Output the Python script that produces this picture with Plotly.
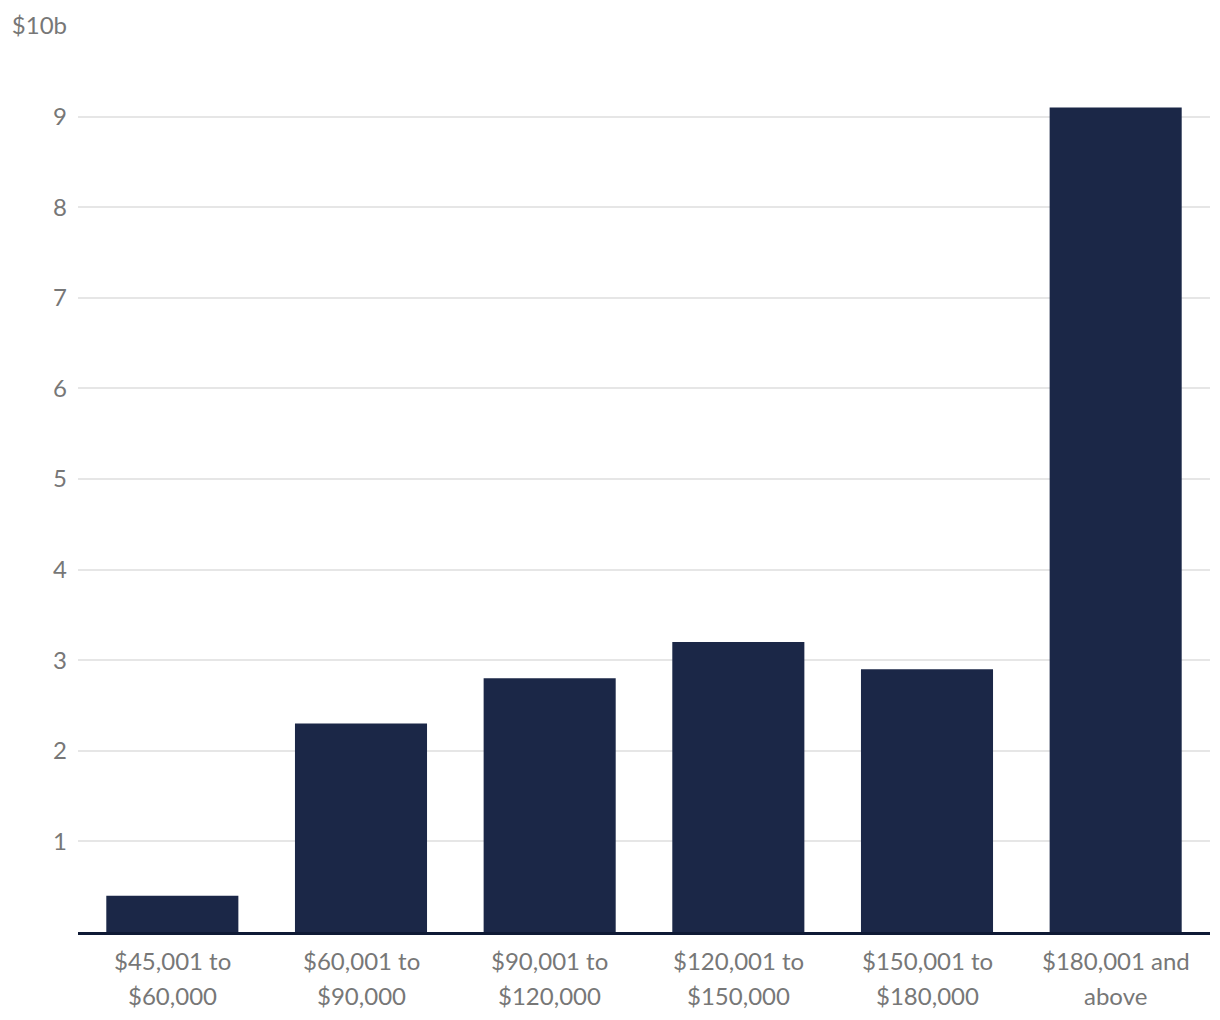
import plotly.graph_objects as go

label_line1 = ["$45,001 to", "$60,001 to", "$90,001 to", "$120,001 to", "$150,001 to", "$180,001 and"]
label_line2 = ["$60,000", "$90,000", "$120,000", "$150,000", "$180,000", "above"]
categories = [a + " " + b for a, b in zip(label_line1, label_line2)]
values = [0.4, 2.3, 2.8, 3.2, 2.9, 9.1]
y_tickvals = [1, 2, 3, 4, 5, 6, 7, 8, 9, 10]
y_ticktext = ["1", "2", "3", "4", "5", "6", "7", "8", "9", "$10b"]

TEXT_COLOR = "#777777"
FONT = "Lato"

fig = go.Figure(go.Bar(x=categories, y=values, marker=dict(color="#1b2747", line=dict(width=0))))

annotations = []
for cat, l1, l2 in zip(categories, label_line1, label_line2):
    annotations.append(dict(x=cat, xref="x", y=0, yref="paper", text=l1, showarrow=False,
                            yanchor="middle", yshift=-28, font=dict(family=FONT, size=24, color=TEXT_COLOR)))
    annotations.append(dict(x=cat, xref="x", y=0, yref="paper", text=l2, showarrow=False,
                            yanchor="middle", yshift=-63, font=dict(family=FONT, size=24, color=TEXT_COLOR)))

fig.update_layout(
    width=1220, height=1020,
    margin=dict(l=78, r=10, t=24, b=88),
    paper_bgcolor="white", plot_bgcolor="white",
    bargap=0.3,
    showlegend=False,
    font=dict(family=FONT, size=24, color=TEXT_COLOR),
    annotations=annotations,
)
fig.update_xaxes(showgrid=False, showline=True, linecolor="#0f1a35", linewidth=3,
                 ticks="", showticklabels=False)
fig.update_yaxes(range=[0, 10], tickvals=y_tickvals, ticktext=y_ticktext,
                 showgrid=True, gridcolor="#e6e6e6", gridwidth=2, zeroline=False,
                 showline=False, ticks="", ticklabelstandoff=10,
                 tickfont=dict(family=FONT, size=24, color=TEXT_COLOR))

fig.write_html("out.html")
